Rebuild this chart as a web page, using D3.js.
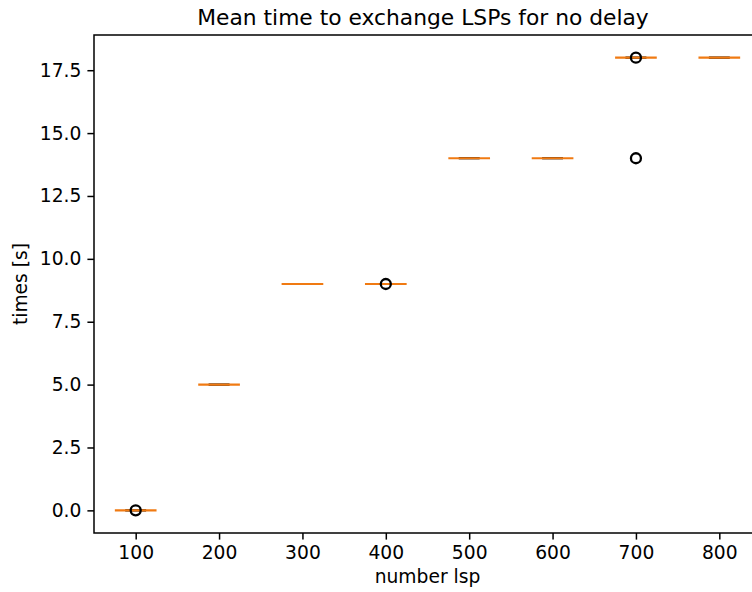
<!DOCTYPE html>
<html>
<head>
<meta charset="utf-8">
<script src="https://cdn.jsdelivr.net/npm/d3@7"></script>
<style>
  html, body { margin: 0; padding: 0; background: #fff; }
  svg { display: block; font-family: "DejaVu Sans", sans-serif; }
  .axis text { font-size: 18.7px; fill: #000; }
  .axis path, .axis line { stroke: #000; }
</style>
</head>
<body>
<div class="js-chart"></div>
<script>
  // Values (every box collapsed to one value).
  var categories = ['100', '200', '300', '400', '500', '600', '700', '800'];
  var medians    = [0, 5, 9, 9, 14, 14, 18, 18];
  var q1         = [0, 5, 9, 9, 14, 14, 18, 18];
  var q3         = [0, 5, 9, 9, 14, 14, 18, 18];
  var whiskerLo  = [0, 5, 9, 9, 14, 14, 18, 18];
  var whiskerHi  = [0, 5, 9, 9, 14, 14, 18, 18];
  var fliers     = [[0], [], [], [9], [], [], [18, 14], []];
  var yTicks     = [0, 2.5, 5, 7.5, 10, 12.5, 15, 17.5];

  var totalW = 752, totalH = 592;
  var margin = {top: 35, bottom: 59, left: 94, right: -9};

  var svg = d3.select('.js-chart').append('svg')
      .attr('width', totalW)
      .attr('height', totalH);

  var xScale = d3.scalePoint()
      .domain(categories)
      .range([margin.left, totalW - margin.right])
      .padding(0.5);

  var yScale = d3.scaleLinear()
      .domain([-0.9, 18.9])
      .range([totalH - margin.bottom, margin.top]);

  var step = xScale.step();
  var boxHalf = step * 0.25;
  var capHalf = step * 0.125;

  var data = categories.map(function(c, i) {
    return {cat: c, med: medians[i], q1: q1[i], q3: q3[i],
            lo: whiskerLo[i], hi: whiskerHi[i], fliers: fliers[i]};
  });

  // Axes
  var xAxis = svg.append('g')
      .classed('axis', true)
      .attr('transform', 'translate(0,' + yScale.range()[0] + ')')
      .call(d3.axisBottom(xScale).tickSizeOuter(0).tickSize(6.6).tickPadding(6));
  xAxis.select('.domain').remove();

  var yAxis = svg.append('g')
      .classed('axis', true)
      .attr('transform', 'translate(' + margin.left + ',0)')
      .call(d3.axisLeft(yScale).tickValues(yTicks).tickFormat(d3.format('.1f'))
              .tickSize(6.6).tickPadding(6));
  yAxis.select('.domain').remove();
  svg.selectAll('.axis .tick line').attr('stroke-width', 1.5);
  svg.selectAll('.axis text').attr('font-family', '"DejaVu Sans", sans-serif');

  // Spines (right one falls just outside the picture)
  var x0 = xScale.range()[0], x1 = xScale.range()[1];
  var y0 = yScale.range()[0], y1 = yScale.range()[1];
  svg.append('rect')
      .attr('x', x0).attr('y', y1)
      .attr('width', x1 - x0).attr('height', y0 - y1)
      .attr('fill', 'none')
      .attr('stroke', '#000')
      .attr('stroke-width', 1.5);

  var boxes = svg.append('g').selectAll('g')
      .data(data)
      .enter().append('g');

  // box outline
  boxes.append('rect')
      .attr('x', function(d) { return xScale(d.cat) - boxHalf; })
      .attr('y', function(d) { return yScale(d.q3); })
      .attr('width', boxHalf * 2)
      .attr('height', function(d) { return yScale(d.q1) - yScale(d.q3); })
      .attr('fill', 'none')
      .attr('stroke', '#000')
      .attr('stroke-width', 1.9);

  // whiskers
  boxes.append('line')
      .attr('x1', function(d) { return xScale(d.cat); })
      .attr('x2', function(d) { return xScale(d.cat); })
      .attr('y1', function(d) { return yScale(d.lo); })
      .attr('y2', function(d) { return yScale(d.hi); })
      .attr('stroke', '#000')
      .attr('stroke-width', 1.9);

  // caps
  ['lo', 'hi'].forEach(function(k) {
    boxes.append('line')
        .attr('x1', function(d) { return xScale(d.cat) - capHalf; })
        .attr('x2', function(d) { return xScale(d.cat) + capHalf; })
        .attr('y1', function(d) { return yScale(d[k]); })
        .attr('y2', function(d) { return yScale(d[k]); })
        .attr('stroke', '#000')
        .attr('stroke-width', 1.9);
  });

  // medians
  boxes.append('line')
      .attr('x1', function(d) { return xScale(d.cat) - boxHalf; })
      .attr('x2', function(d) { return xScale(d.cat) + boxHalf; })
      .attr('y1', function(d) { return yScale(d.med); })
      .attr('y2', function(d) { return yScale(d.med); })
      .attr('stroke', '#f07a12')
      .attr('stroke-width', 2.2);

  // fliers
  boxes.selectAll('circle')
      .data(function(d) { return d.fliers.map(function(v) { return {cat: d.cat, v: v}; }); })
      .enter().append('circle')
      .attr('cx', function(d) { return xScale(d.cat); })
      .attr('cy', function(d) { return yScale(d.v); })
      .attr('r', 5)
      .attr('fill', 'none')
      .attr('stroke', '#000')
      .attr('stroke-width', 2.3);

  // Title and labels
  svg.append('text')
      .attr('x', 423)
      .attr('y', 25)
      .attr('text-anchor', 'middle')
      .style('font-size', '21.8px')
      .text('Mean time to exchange LSPs for no delay');

  svg.append('text')
      .attr('x', (x0 + x1) / 2)
      .attr('y', 583)
      .attr('text-anchor', 'middle')
      .style('font-size', '18.7px')
      .text('number lsp');

  svg.append('text')
      .attr('transform', 'translate(27,' + ((y0 + y1) / 2) + ') rotate(-90)')
      .attr('text-anchor', 'middle')
      .style('font-size', '18.7px')
      .text('times [s]');
</script>
</body>
</html>
